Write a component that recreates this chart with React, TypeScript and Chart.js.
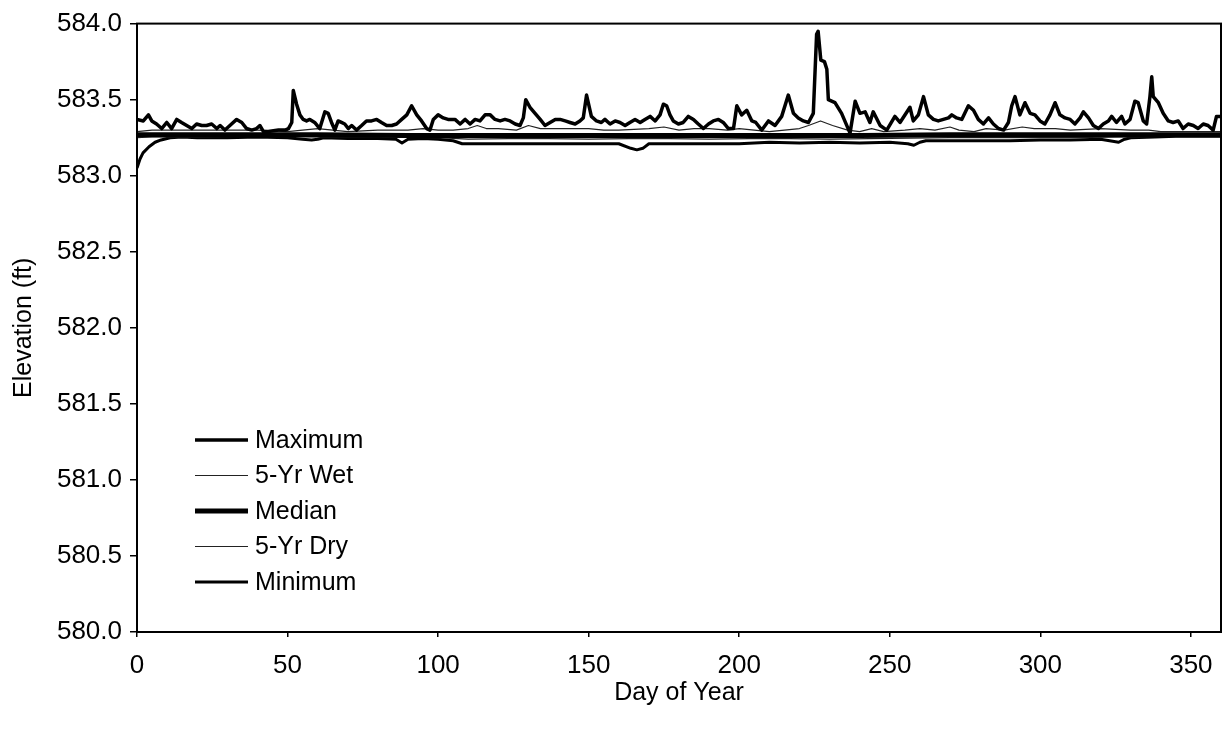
import React, { useEffect, useRef } from "react";
import { Chart, registerables } from "chart.js";

Chart.register(...registerables);

const seriesLabels = ["Maximum", "5-Yr Wet", "Median", "5-Yr Dry", "Minimum"];

const maxDays = [
  0, 2.1, 3.8, 4.9, 6.5, 8.2, 9.9, 11.5, 13.2, 14.8, 16.5, 18.2, 19.8, 21.5, 23.1, 24.8, 26.5, 27.6, 29.2, 31.4,
  33.1, 34.8, 36.4, 38.1, 39.7, 40.8, 42.0, 43.6, 47.0, 49.2, 50.3, 51.4, 51.9, 53.0, 54.1, 55.2, 56.3, 57.4, 59.0, 60.7,
  62.4, 63.5, 64.6, 65.7, 66.8, 67.9, 69.0, 70.2, 71.3, 72.9, 74.6, 76.2, 77.9, 79.6, 81.2, 82.9, 84.6, 86.2, 87.9, 89.6,
  91.2, 92.9, 94.5, 96.2, 97.3, 98.4, 100.0, 101.7, 103.3, 105.6, 107.3, 109.0, 110.6, 112.3, 113.9, 115.6, 117.3, 118.9, 120.6, 122.2,
  123.9, 125.6, 127.2, 128.3, 129.1, 130.5, 132.2, 133.9, 135.5, 137.2, 138.9, 140.5, 142.2, 143.8, 145.5, 147.1, 148.2, 149.3, 150.9, 152.6,
  154.2, 155.4, 157.1, 158.8, 160.4, 162.1, 163.7, 165.4, 167.1, 168.7, 170.4, 172.1, 173.7, 174.8, 175.9, 177.0, 178.1, 179.8, 181.4, 183.1,
  184.8, 186.4, 188.1, 189.8, 191.4, 193.1, 194.7, 196.4, 198.1, 199.2, 200.8, 202.5, 204.2, 205.5, 207.5, 209.7, 211.9, 214.1, 216.3, 218.0,
  219.6, 221.3, 223.0, 224.6, 225.7, 226.2, 227.1, 228.3, 229.1, 229.6, 231.8, 234.0, 236.8, 238.5, 240.1, 241.8, 243.4, 244.5, 246.8, 249.0,
  251.7, 253.4, 256.7, 257.8, 259.5, 261.2, 262.8, 264.5, 266.1, 267.8, 269.5, 270.6, 272.2, 273.9, 276.1, 277.8, 279.4, 281.1, 282.8, 284.4,
  286.1, 287.8, 289.4, 290.5, 291.6, 293.2, 294.9, 296.6, 298.2, 299.9, 301.5, 303.2, 304.9, 306.5, 308.2, 309.9, 311.5, 313.2, 314.3, 316.0,
  317.6, 319.3, 320.9, 322.6, 323.7, 325.3, 327.0, 328.1, 329.8, 331.4, 332.5, 334.2, 335.3, 336.4, 337.0, 337.5, 339.2, 340.8, 342.5, 344.1,
  345.8, 347.4, 349.1, 350.8, 352.4, 354.1, 355.7, 357.4, 358.5, 360.0,
];
const maxValues = [
  583.37, 583.36, 583.40, 583.36, 583.34, 583.31, 583.35, 583.31, 583.37, 583.35, 583.33, 583.31, 583.34, 583.33, 583.33, 583.34, 583.31, 583.33, 583.30, 583.34,
  583.37, 583.35, 583.31, 583.30, 583.31, 583.33, 583.29, 583.29, 583.30, 583.30, 583.31, 583.35, 583.56, 583.47, 583.40, 583.37, 583.36, 583.37, 583.35, 583.31,
  583.42, 583.41, 583.35, 583.30, 583.36, 583.35, 583.34, 583.31, 583.33, 583.30, 583.33, 583.36, 583.36, 583.37, 583.35, 583.33, 583.33, 583.34, 583.37, 583.40,
  583.46, 583.40, 583.36, 583.31, 583.30, 583.37, 583.40, 583.38, 583.37, 583.37, 583.34, 583.37, 583.34, 583.37, 583.36, 583.40, 583.40, 583.37, 583.36, 583.37,
  583.36, 583.34, 583.33, 583.38, 583.50, 583.45, 583.41, 583.37, 583.33, 583.35, 583.37, 583.37, 583.36, 583.35, 583.34, 583.36, 583.38, 583.53, 583.39, 583.36,
  583.35, 583.37, 583.34, 583.36, 583.35, 583.33, 583.35, 583.37, 583.35, 583.37, 583.39, 583.36, 583.40, 583.47, 583.46, 583.40, 583.36, 583.34, 583.35, 583.39,
  583.37, 583.34, 583.31, 583.34, 583.36, 583.37, 583.35, 583.31, 583.31, 583.46, 583.40, 583.43, 583.36, 583.35, 583.30, 583.36, 583.33, 583.39, 583.53, 583.41,
  583.38, 583.36, 583.35, 583.41, 583.93, 583.95, 583.76, 583.75, 583.70, 583.50, 583.48, 583.41, 583.28, 583.49, 583.41, 583.42, 583.35, 583.42, 583.33, 583.30,
  583.39, 583.35, 583.45, 583.36, 583.40, 583.52, 583.40, 583.37, 583.36, 583.37, 583.38, 583.40, 583.38, 583.37, 583.46, 583.43, 583.37, 583.34, 583.38, 583.34,
  583.31, 583.30, 583.35, 583.46, 583.52, 583.40, 583.48, 583.41, 583.40, 583.36, 583.34, 583.40, 583.48, 583.40, 583.38, 583.37, 583.34, 583.38, 583.42, 583.38,
  583.33, 583.31, 583.34, 583.36, 583.39, 583.35, 583.39, 583.34, 583.37, 583.49, 583.48, 583.36, 583.34, 583.52, 583.65, 583.52, 583.48, 583.41, 583.36, 583.35,
  583.36, 583.31, 583.34, 583.33, 583.31, 583.34, 583.33, 583.30, 583.39, 583.39,
];

const wetDays = [
  0, 5, 20, 40, 50, 55, 60, 65, 70, 80, 90, 95, 100, 105, 110, 113, 116, 120, 126, 130,
  134, 140, 150, 155, 160, 170, 175, 180, 185, 190, 196, 200, 205, 210, 215, 220, 223, 227, 231, 236,
  240, 244, 248, 255, 260, 265, 270, 273, 278, 282, 288, 294, 298, 305, 310, 320, 330, 336, 340, 350, 360,
];
const wetValues = [
  583.29, 583.30, 583.30, 583.30, 583.29, 583.30, 583.31, 583.30, 583.29, 583.30, 583.30, 583.31, 583.30, 583.30, 583.31, 583.33, 583.31, 583.31, 583.30, 583.33,
  583.31, 583.31, 583.31, 583.30, 583.30, 583.31, 583.32, 583.30, 583.31, 583.31, 583.30, 583.31, 583.30, 583.29, 583.30, 583.31, 583.33, 583.36, 583.33, 583.30,
  583.29, 583.31, 583.29, 583.30, 583.31, 583.30, 583.32, 583.30, 583.29, 583.31, 583.30, 583.32, 583.31, 583.31, 583.30, 583.31, 583.30, 583.30, 583.29, 583.29, 583.29,
];

const medianDays = [0, 30, 60, 90, 120, 150, 180, 210, 240, 270, 300, 330, 360];
const medianValues = [583.27, 583.27, 583.27, 583.265, 583.265, 583.265, 583.265, 583.265, 583.265, 583.27, 583.27, 583.27, 583.27];

const dryDays = [0, 5, 20, 40, 60, 80, 100, 110, 130, 150, 170, 190, 210, 230, 250, 270, 290, 310, 330, 345, 360];
const dryValues = [
  583.25, 583.255, 583.255, 583.26, 583.255, 583.255, 583.25, 583.24, 583.245, 583.24, 583.245, 583.24, 583.245, 583.24, 583.245, 583.25,
  583.25, 583.25, 583.255, 583.26, 583.26,
];

const minDays = [
  0, 1, 2, 4, 6, 8, 11, 15, 20, 30, 40, 50, 55, 58, 60, 62, 70, 80, 86, 88,
  90, 95, 100, 105, 108, 120, 140, 160, 164, 166, 168, 170, 180, 200, 205, 210, 220, 230, 240, 250,
  256, 258, 260, 262, 270, 280, 290, 300, 310, 320, 326, 328, 330, 338, 345, 360,
];
const minValues = [
  583.05, 583.11, 583.15, 583.19, 583.22, 583.235, 583.25, 583.255, 583.25, 583.25, 583.255, 583.25, 583.24, 583.235, 583.24, 583.25, 583.245, 583.245, 583.24, 583.215,
  583.24, 583.245, 583.24, 583.23, 583.21, 583.21, 583.21, 583.21, 583.18, 583.17, 583.18, 583.21, 583.21, 583.21, 583.215, 583.22, 583.215, 583.22, 583.215, 583.22,
  583.21, 583.20, 583.22, 583.23, 583.23, 583.23, 583.23, 583.235, 583.235, 583.24, 583.22, 583.24, 583.25, 583.255, 583.26, 583.26,
];

const yTicks = [580.0, 580.5, 581.0, 581.5, 582.0, 582.5, 583.0, 583.5, 584.0];
const xTicks = [0, 50, 100, 150, 200, 250, 300, 350];

const FONT = "'Liberation Sans', Arial, sans-serif";

const toPoints = (days: number[], vals: number[]) => days.map((d, i) => ({ x: d, y: vals[i] }));

const frameAndLegend = {
  id: "frameAndLegend",
  afterDraw(chart: any) {
    const { ctx, chartArea } = chart;
    ctx.save();
    ctx.strokeStyle = "#000";
    ctx.lineWidth = 2;
    ctx.strokeRect(chartArea.left, chartArea.top, chartArea.right - chartArea.left, chartArea.bottom - chartArea.top);
    const lx0 = chartArea.left + 58;
    const lx1 = chartArea.left + 111;
    const tx = chartArea.left + 118;
    const y0 = 440;
    const dy = 35.5;
    ctx.font = `25px ${FONT}`;
    ctx.textBaseline = "middle";
    ctx.textAlign = "left";
    chart.data.datasets.forEach((ds: any, i: number) => {
      const y = y0 + i * dy;
      ctx.beginPath();
      ctx.strokeStyle = ds.borderColor;
      ctx.lineWidth = ds.borderWidth;
      ctx.moveTo(lx0, y);
      ctx.lineTo(lx1, y);
      ctx.stroke();
      ctx.fillStyle = "#000";
      ctx.fillText(ds.label, tx, y + 1);
    });
    ctx.restore();
  },
};

export default function App() {
  const canvasRef = useRef<HTMLCanvasElement | null>(null);

  useEffect(() => {
    if (!canvasRef.current) return;
    const widths = [3.5, 1.2, 5, 1.2, 3];
    const colors = ["#000", "#222", "#000", "#222", "#000"];
    const sets = [
      toPoints(maxDays, maxValues),
      toPoints(wetDays, wetValues),
      toPoints(medianDays, medianValues),
      toPoints(dryDays, dryValues),
      toPoints(minDays, minValues),
    ];
    const chart = new Chart(canvasRef.current, {
      type: "line",
      data: {
        datasets: seriesLabels.map((label, i) => ({
          label,
          data: sets[i],
          borderColor: colors[i],
          backgroundColor: colors[i],
          borderWidth: widths[i],
          pointRadius: 0,
          tension: 0,
          fill: false,
          borderJoinStyle: "round" as const,
        })),
      },
      options: {
        responsive: false,
        animation: false,
        events: [],
        layout: { padding: { left: 0, top: 20, right: 11, bottom: 0 } },
        plugins: { legend: { display: false }, tooltip: { enabled: false }, title: { display: false } },
        scales: {
          x: {
            type: "linear",
            min: 0,
            max: 360,
            afterFit: (s: any) => {
              s.height = 97;
            },
            afterBuildTicks: (s: any) => {
              s.ticks = xTicks.map((v) => ({ value: v }));
            },
            ticks: {
              color: "#000",
              font: { family: FONT, size: 26, lineHeight: 1.2 },
              padding: 13,
              maxRotation: 0,
              autoSkip: false,
              callback: (v: any) => String(v),
            },
            grid: { display: true, drawOnChartArea: false, drawTicks: true, tickLength: 5, color: "#000", lineWidth: 1.5 },
            border: { display: true, color: "#000", width: 2 },
            title: {
              display: true,
              text: "Day of Year",
              color: "#000",
              font: { family: FONT, size: 25, lineHeight: 1.2 },
              padding: { top: 0, bottom: 21 },
            },
          },
          y: {
            type: "linear",
            min: 580,
            max: 584,
            afterFit: (s: any) => {
              s.width = 137;
            },
            afterBuildTicks: (s: any) => {
              s.ticks = yTicks.map((v) => ({ value: v }));
            },
            ticks: {
              color: "#000",
              font: { family: FONT, size: 26, lineHeight: 1.2 },
              padding: 8,
              autoSkip: false,
              callback: (v: any) => Number(v).toFixed(1),
            },
            grid: { display: true, drawOnChartArea: false, drawTicks: true, tickLength: 7, color: "#000", lineWidth: 1.5 },
            border: { display: true, color: "#000", width: 2 },
            title: {
              display: true,
              text: "Elevation (ft)",
              color: "#000",
              font: { family: FONT, size: 25, lineHeight: 1.2 },
              padding: { top: 9, bottom: 0 },
            },
          },
        },
      },
      plugins: [frameAndLegend],
    });
    return () => chart.destroy();
  }, []);

  return (
    <div style={{ position: "absolute", left: 0, top: 0, width: 1232, height: 729, background: "#fff" }}>
      <canvas ref={canvasRef} width={1232} height={729} style={{ display: "block", width: 1232, height: 729 }} />
    </div>
  );
}
